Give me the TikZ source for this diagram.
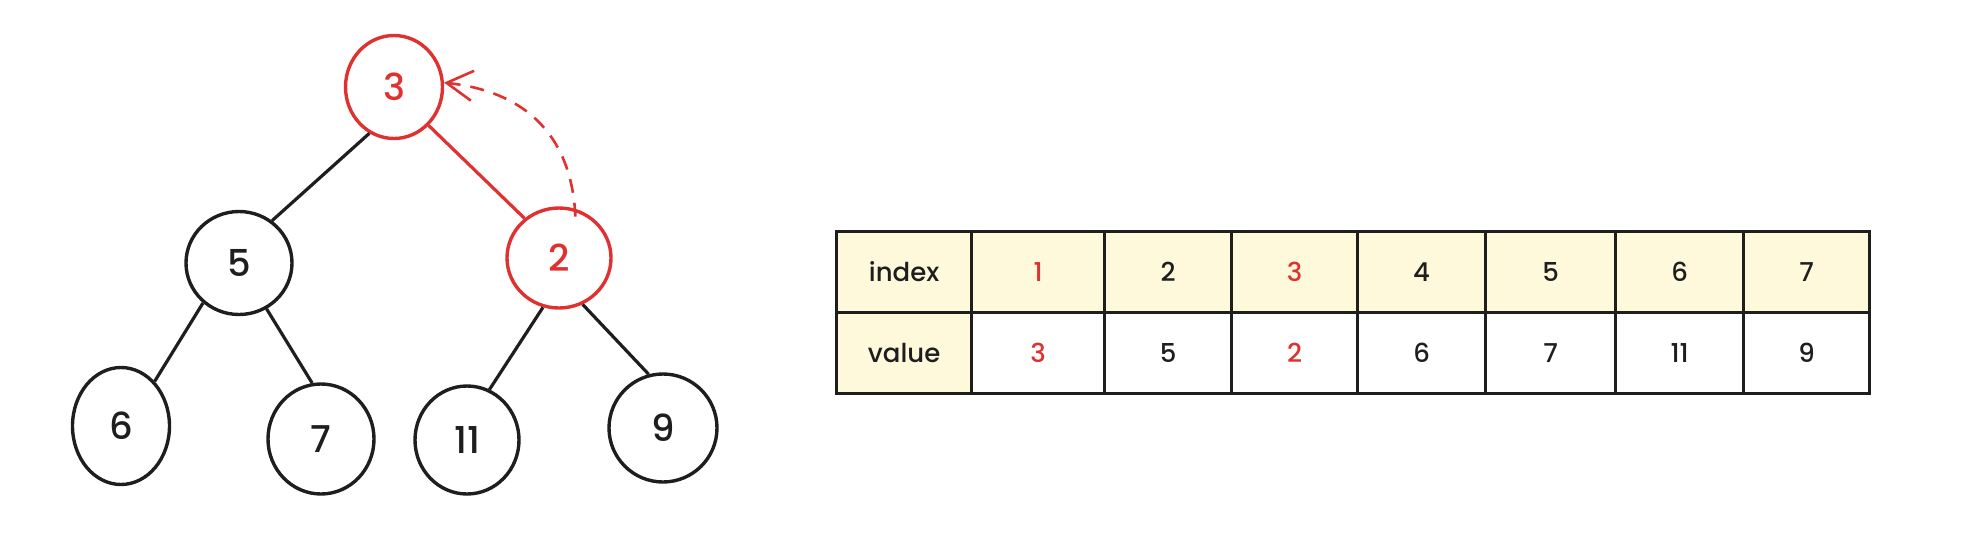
\documentclass[tikz,border=0pt]{standalone}
\usepackage{fontspec}
\setmainfont{Poppins}[BoldFont={Poppins Medium}]
\usetikzlibrary{shapes.geometric,arrows.meta}
\definecolor{ink}{HTML}{1E1E1E}
\definecolor{hred}{HTML}{E03131}
\definecolor{cellyellow}{HTML}{FFF9DB}
\begin{document}
\begin{tikzpicture}[x=1pt,y=-1pt,
  tnode/.style={ellipse, draw=ink, line width=3.4pt, inner sep=0pt, text=ink, font=\fontsize{37}{40}\selectfont\bfseries},
  hnode/.style={tnode, draw=hred, text=hred},
  edge/.style={draw=ink, line width=3.2pt},
  hedge/.style={draw=hred, line width=3.2pt},
  cell/.style={draw=ink, line width=3.2pt, anchor=north west, inner sep=0pt, minimum height=81pt, font=\fontsize{26}{30}\selectfont\bfseries},
  swaparrow/.style={draw=hred, line width=2.6pt, dash pattern=on 14pt off 10pt, -{Straight Barb[length=26pt,width=30pt]}}]
\useasboundingbox (0,0) rectangle (1972,538);
% tree nodes
\node[hnode, minimum width=97pt, minimum height=103pt] (n3) at (394,87) {3};
\node[tnode, minimum width=106pt, minimum height=103pt] (n5) at (239,263) {5};
\node[hnode, minimum width=104pt, minimum height=100pt] (n2) at (559,258) {2};
\node[tnode, minimum width=97pt, minimum height=117pt] (n6) at (121,426) {6};
\node[tnode, minimum width=106pt, minimum height=110pt] (n7) at (321,439) {7};
\node[tnode, minimum width=104pt, minimum height=108pt] (n11) at (467,440) {11};
\node[tnode, minimum width=108pt, minimum height=108pt] (n9) at (663,428) {9};
% edges
\draw[edge] (n3.242) -- (n5.52);
\draw[hedge] (n3.312) -- (n2.131);
\draw[edge] (n5.228) -- (n6.53);
\draw[edge] (n5.301) -- (n7.99);
\draw[edge] (n2.252) -- (n11.66);
\draw[edge] (n2.297) -- (n9.105);
% swap arrow
\draw[swaparrow, shorten <=-8pt] (n2.72) .. controls (572,140) and (530,92) .. (n3.5);
% table
\foreach \k/\xa/\xb/\ia/\va/\ic/\vc/\vf in {
  0/835/970/index/value/ink/ink/cellyellow,
  1/970/1103/1/3/hred/hred/white,
  2/1103/1230/2/5/ink/ink/white,
  3/1230/1356/3/2/hred/hred/white,
  4/1356/1484/4/6/ink/ink/white,
  5/1484/1614/5/7/ink/ink/white,
  6/1614/1742/6/11/ink/ink/white,
  7/1742/1868/7/9/ink/ink/white}
{
  \pgfmathsetmacro\w{\xb-\xa}
  \node[cell, fill=cellyellow, minimum width=\w pt, text=\ic] (i\k) at (\xa,230) {\ia};
  \node[cell, fill=\vf, minimum width=\w pt, text=\vc] (v\k) at (\xa,311) {\va};
}
\end{tikzpicture}
\end{document}
